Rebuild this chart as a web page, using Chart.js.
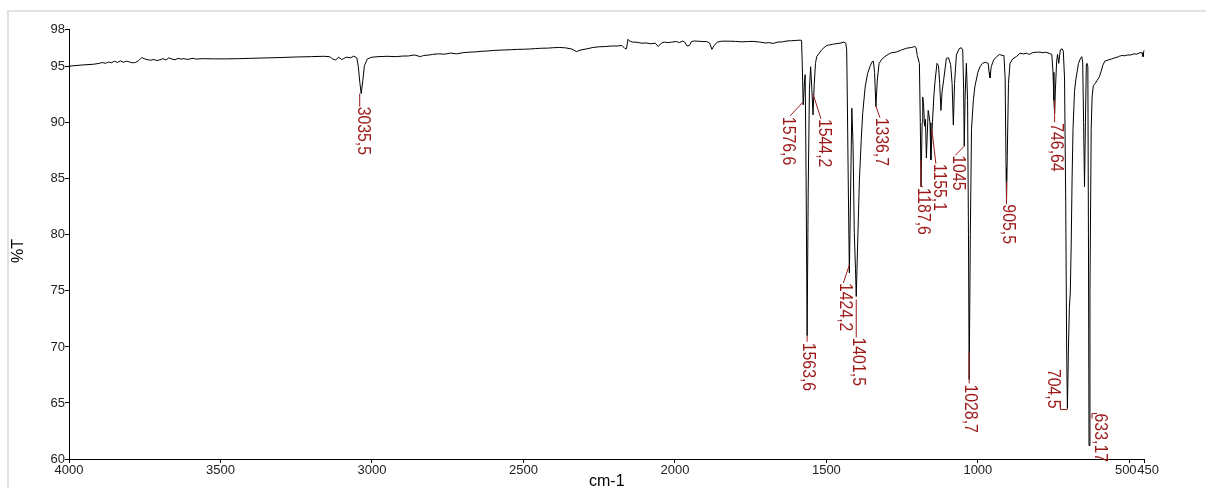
<!DOCTYPE html>
<html><head><meta charset="utf-8">
<script src="https://cdn.jsdelivr.net/npm/chart.js@4.4.1/dist/chart.umd.min.js"></script>
<style>
html,body{margin:0;padding:0;background:#fff;overflow:hidden;width:1206px;height:488px;}
#frame{position:absolute;left:7px;top:10px;width:1240px;height:520px;border:2px solid #e2e2e2;}
#wrap{position:absolute;left:0;top:0;width:1206px;height:488px;}
</style></head><body>
<div id="frame"></div>
<div id="wrap"><canvas id="c" width="1206" height="488"></canvas></div>
<script>
// ---- data ----
const wavenumbers = [
4000,3960,3920,3900,3890,3880,3870,3860,3850,3840,
3830,3820,3810,3800,3790,3780,3770,3760,3750,3740,
3730,3720,3710,3700,3690,3680,3670,3660,3650,3640,
3630,3620,3610,3600,3590,3580,3560,3520,3480,3440,
3400,3360,3300,3250,3200,3160,3140,3130,3120,3110,
3100,3095,3085,3070,3060,3050,3045,3040,3035.5,3030,
3025,3015,3000,2980,2950,2920,2900,2880,2860,2840,
2830,2810,2800,2780,2760,2740,2720,2700,2680,2660,
2640,2620,2600,2580,2560,2540,2520,2500,2480,2460,
2440,2420,2400,2380,2360,2340,2325,2310,2290,2270,
2250,2230,2210,2190,2175,2165,2160,2155,2150,2140,
2125,2110,2095,2080,2065,2055,2045,2035,2025,2010,
1995,1985,1975,1968,1960,1952,1945,1935,1925,1910,
1895,1885,1878,1870,1860,1845,1820,1800,1780,1760,
1742,1720,1700,1690,1676,1660,1645,1630,1615,1600,
1587,1582,1580,1576.6,1572,1570,1567,1563.6,1560,1556,
1552,1548,1544.2,1540,1536,1532,1524,1516,1508,1499,
1490,1480,1470,1455,1442,1436,1433,1431,1428,1424.2,
1420,1416,1412,1408,1404,1401.5,1396,1391,1385,1380,
1372,1364,1355,1349,1345,1341,1336.7,1332,1326,1316,
1307,1296,1285,1270,1252,1235,1220,1208,1204,1200,
1196,1193,1190,1187.6,1184,1182,1179,1176,1173,1170,
1167,1164,1161,1158,1155.1,1150,1145,1141,1135,1130,
1126,1122,1118,1113,1104,1097,1090,1085,1081,1077,
1071,1062,1055,1050,1047,1045,1042,1038,1034,1031,
1028.7,1025,1021,1015,1010,1000,993,985,975,966,
963,960,956,948,938,928,920,914,910,907,
905.5,903,899,894,885,873,861,850,840,830,
820,806,795,785,778,765,756,752,749,746.64,
744,740,737,733,728,722,718,714,710,707,
704.5,701,698,695,692,689,686,681,677,672,
668,662,657,654,651,648,645,642,640,637,
635,633.17,630,626,623,619,613,606,599,593,
588,581,570,558,548,540,532,525,515,505,
495,485,475,465,458,455,452,450];

const transmittance = [
95.05,95.15,95.22,95.3,95.38,95.3,95.42,95.35,95.5,95.38,
95.52,95.4,95.5,95.42,95.35,95.38,95.55,95.82,95.7,95.62,
95.58,95.65,95.55,95.62,95.72,95.6,95.8,95.68,95.62,95.75,
95.68,95.72,95.65,95.7,95.75,95.68,95.72,95.7,95.7,95.72,
95.75,95.78,95.82,95.87,95.9,95.93,95.9,95.7,95.6,95.85,
95.65,95.7,95.85,95.8,95.95,95.8,95.0,93.6,92.6,93.8,
95.1,95.7,95.85,95.9,95.93,95.9,95.95,95.96,96.05,95.9,
96.0,96.05,96.1,96.15,96.12,96.22,96.15,96.25,96.3,96.32,
96.38,96.4,96.45,96.48,96.5,96.52,96.55,96.56,96.58,96.62,
96.65,96.66,96.7,96.72,96.68,96.58,96.35,96.5,96.6,96.72,
96.78,96.8,96.85,96.85,96.9,96.62,96.6,97.45,97.3,97.2,
97.18,97.1,97.12,97.05,97.1,96.8,97.1,97.2,97.15,97.2,
97.25,97.15,97.3,97.2,96.85,96.9,97.25,97.3,97.28,97.25,
97.25,97.1,96.55,96.9,97.2,97.28,97.28,97.26,97.22,97.25,
97.26,97.2,97.12,97.15,97.08,97.2,97.22,97.3,97.32,97.35,
97.37,97.35,95.5,91.6,93.8,94.3,85,71.0,84,93,
95.0,93,90.7,93.5,95.3,95.9,96.2,96.5,96.7,96.9,
96.95,97.0,97.05,97.1,97.2,97.1,96.5,92.3,85,76.6,
84,91.3,88,80.2,77,74.5,80,84.9,88.5,90.9,
93.2,94.4,95.1,95.45,95.5,94.5,91.44,93.8,95.3,95.7,
95.9,96.1,96.25,96.3,96.5,96.65,96.72,96.8,96.7,96.0,
95.6,95.3,90,84.3,90,92.3,91.5,89.7,90.3,86.85,
89,91.1,90.6,90.0,86.7,90,92.5,93.8,95.3,95.1,
93.5,91.1,92.8,93.8,95.75,95.8,95.2,93.5,89.8,93.5,
96.04,96.6,96.7,96.5,93,87.9,92.5,95.3,92,80,
67.1,80,89.4,92,93.2,94.5,95.0,95.3,95.4,95.3,
94.5,94.0,95.0,95.6,95.9,96.1,96.0,96.0,94,86,
82.9,87,93.5,95.3,95.7,95.9,96.2,96.15,96.2,96.1,
96.25,96.3,96.3,96.25,96.3,96.2,96.1,94.5,92,90.85,
93,95.5,96.1,95.3,96.5,96.6,96.4,94,83,70,
64.5,70,73.5,74.8,79,85,89.4,92.8,93.8,94.6,
95.3,95.7,95.9,95.4,90,84.3,90,95.2,95.3,95.0,
80,61.2,75,89.4,92.3,93.3,93.5,93.8,94.1,94.6,
95.1,95.5,95.6,95.7,95.8,95.85,95.95,96.0,95.98,96.05,
96.05,96.15,96.12,96.25,96.25,95.9,96.4,96.5];

const peakWavenumbers = [3035.5,1576.6,1563.6,1544.2,1424.2,1401.5,1336.7,1187.6,1155.1,1045,1028.7,905.5,746.64,704.5,633.17];
const peakTransmittance = [92.6,91.6,71.0,90.7,76.6,74.5,91.44,84.3,86.7,87.9,67.1,82.9,90.85,64.5,61.2];
const peakLabels = ['3035,5','1576,6','1563,6','1544,2','1424,2','1401,5','1336,7','1187,6','1155,1','1045','1028,7','905,5','746,64','704,5','633,17'];

const xTickValues = [4000,3500,3000,2500,2000,1500,1000,500,450];
const xTickLabels = ['4000','3500','3000','2500','2000','1500','1000','500  ','  450'];
const yTickValues = [60,65,70,75,80,85,90,95,98.34];
const yTickLabels = ['60','65','70','75','80','85','90','95','98'];

const xTitle = 'cm-1';
const yTitle = '%T';

// ---- label placement (pixel offsets from each peak; layout only) ----
const labelGeometry = [
  {leader:[[-1.5,0],[-1.5,13]], text:[1.5,13], align:'left'},
  {leader:[[0,-3],[-13,11]], text:[-15,12], align:'left'},
  {leader:[[0,0],[0,6]], text:[1,7], align:'left'},
  {leader:[[0,-21],[8,4]], text:[11,4], align:'left'},
  {leader:[[0,-8],[-6,10]], text:[-4,10], align:'left'},
  {leader:[[0,3],[0,41]], text:[2,41], align:'left'},
  {leader:[[0,-1],[4,11]], text:[5,11], align:'left'},
  {leader:[[0,-27],[0,0],[2,0]], text:[2,1], align:'left'},
  {leader:[[1,-30],[5,4]], text:[8,4], align:'left'},
  {leader:[[0,0],[-9,9]], text:[-6,9], align:'left'},
  {leader:[[0,-28],[0,4]], text:[1,5], align:'left'},
  {leader:[[0,-21],[0,2]], text:[1,2], align:'left'},
  {leader:[[0,-13],[0,9]], text:[1,10], align:'left'},
  {leader:[[0,1],[-7,1],[-7,-5]], text:[-14,0], align:'right'},
  {leader:[[3,-27],[3,-32],[8,-32]], text:[11,-32], align:'left'}
];
const labelColor = '#9c1a1a';

const points = wavenumbers.map((w,i)=>({x:w,y:transmittance[i]}));

const peakPlugin = {
  id:'peakLabels',
  afterDatasetsDraw(chart){
    const ctx = chart.ctx, xs = chart.scales.x, ys = chart.scales.y;
    ctx.save();
    ctx.strokeStyle = labelColor; ctx.fillStyle = labelColor; ctx.lineWidth = 1;
    peakWavenumbers.forEach((w,i)=>{
      const px = xs.getPixelForValue(w), py = ys.getPixelForValue(peakTransmittance[i]);
      const g = labelGeometry[i];
      ctx.beginPath();
      g.leader.forEach((p,k)=>{ const X = px+p[0], Y = py+p[1]; if(k===0) ctx.moveTo(X,Y); else ctx.lineTo(X,Y); });
      ctx.stroke();
      ctx.save();
      ctx.translate(px+g.text[0], py+g.text[1]);
      ctx.rotate(Math.PI/2);
      ctx.scale(0.88,1);
      ctx.font = '18px "Liberation Sans", Arial, sans-serif';
      ctx.textAlign = g.align; ctx.textBaseline = 'middle';
      ctx.fillText(peakLabels[i],0,0);
      ctx.restore();
    });
    // y-axis title
    ctx.save();
    ctx.fillStyle = '#000';
    ctx.font = '16px "Liberation Sans", Arial, sans-serif';
    ctx.translate(19, 251);
    ctx.rotate(-Math.PI/2);
    ctx.textAlign = 'center'; ctx.textBaseline = 'middle';
    ctx.fillText(yTitle,0,0);
    ctx.restore();
    ctx.restore();
  }
};

new Chart(document.getElementById('c'), {
  type:'line',
  data:{datasets:[{data:points, borderColor:'#000', borderWidth:1, pointRadius:0, tension:0, fill:false}]},
  options:{
    responsive:false, animation:false, devicePixelRatio:1,
    layout:{padding:{left:0, top:29.3, right:61.5, bottom:0}},
    plugins:{legend:{display:false}, tooltip:{enabled:false}},
    scales:{
      x:{type:'linear', reverse:true, min:450, max:4000,
        afterBuildTicks(s){ s.ticks = xTickValues.map(v=>({value:v})); },
        afterFit(s){ s.height = 29; },
        ticks:{autoSkip:false, maxRotation:0, padding:0, color:'#222', font:{family:'"Liberation Sans", Arial, sans-serif', size:13},
          callback:(v)=>xTickLabels[xTickValues.indexOf(v)]},
        grid:{display:true, drawOnChartArea:false, drawTicks:true, tickLength:4, color:'#000'},
        border:{display:true, color:'#000', width:1},
        title:{display:true, text:xTitle, color:'#000', font:{family:'"Liberation Sans", Arial, sans-serif', size:16}, padding:{top:0,bottom:-3}}
      },
      y:{type:'linear', min:60, max:98.34,
        afterBuildTicks(s){ s.ticks = yTickValues.map(v=>({value:v})); },
        afterFit(s){ s.width = 69; },
        ticks:{autoSkip:false, padding:0, color:'#222', font:{family:'"Liberation Sans", Arial, sans-serif', size:13},
          callback:(v)=>yTickLabels[yTickValues.indexOf(v)]},
        grid:{display:true, drawOnChartArea:false, drawTicks:true, tickLength:4, color:'#000'},
        border:{display:true, color:'#000', width:1},
        title:{display:false}
      }
    }
  },
  plugins:[peakPlugin]
});
</script>
</body></html>
